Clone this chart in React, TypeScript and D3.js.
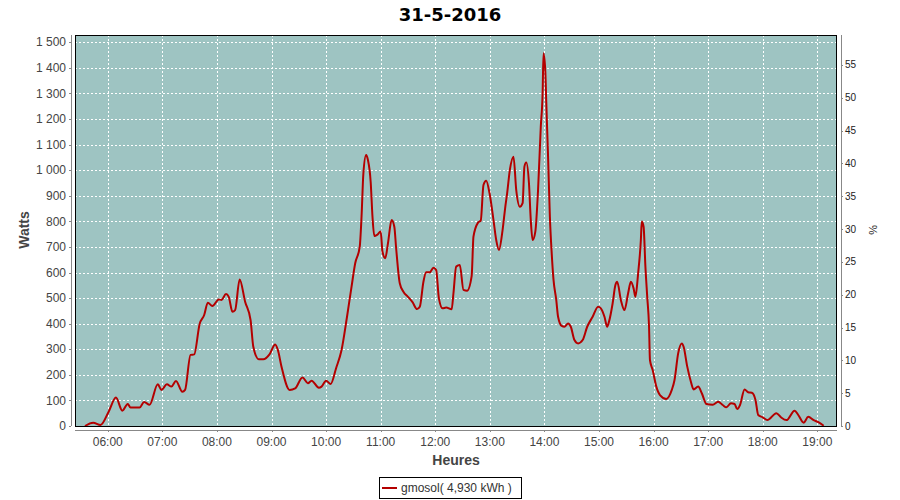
import React from 'react';
import * as d3 from 'd3';

// Puissance produite (W) relevée à chaque instant
const times = [
  '05:35', '05:44', '05:52', '06:01', '06:09', '06:16', '06:22', '06:25', '06:35', '06:40',
  '06:46', '06:55', '06:59', '07:05', '07:10', '07:15', '07:22', '07:25', '07:31', '07:35',
  '07:41', '07:46', '07:50', '07:55', '08:02', '08:05', '08:10', '08:13', '08:17', '08:20',
  '08:25', '08:31', '08:37', '08:40', '08:46', '08:51', '08:58', '09:04', '09:07', '09:11',
  '09:20', '09:26', '09:34', '09:40', '09:44', '09:52', '09:55', '10:00', '10:05', '10:11',
  '10:17', '10:23', '10:28', '10:32', '10:37', '10:39', '10:41', '10:44', '10:46', '10:49',
  '10:51', '10:53', '10:56', '11:00', '11:02', '11:05', '11:08', '11:12', '11:15', '11:17',
  '11:21', '11:25', '11:30', '11:35', '11:40', '11:43', '11:47', '11:50', '11:54', '11:58',
  '12:01', '12:04', '12:08', '12:12', '12:18', '12:20', '12:23', '12:27', '12:31', '12:35',
  '12:40', '12:42', '12:47', '12:50', '12:53', '12:56', '13:00', '13:04', '13:07', '13:10',
  '13:14', '13:17', '13:19', '13:22', '13:26', '13:29', '13:33', '13:36', '13:38', '13:40',
  '13:43', '13:45', '13:47', '13:50', '13:53', '13:56', '13:58', '13:59', '14:01', '14:02',
  '14:04', '14:06', '14:08', '14:10', '14:13', '14:15', '14:19', '14:22', '14:26', '14:29',
  '14:33', '14:37', '14:42', '14:47', '14:53', '14:59', '15:02', '15:06', '15:09', '15:11',
  '15:15', '15:18', '15:20', '15:24', '15:28', '15:32', '15:35', '15:38', '15:40', '15:43',
  '15:46', '15:47', '15:49', '15:51', '15:53', '15:55', '15:56', '15:59', '16:03', '16:07',
  '16:14', '16:20', '16:23', '16:27', '16:31', '16:33', '16:37', '16:41', '16:44', '16:49',
  '16:53', '16:58', '17:05', '17:11', '17:16', '17:20', '17:25', '17:29', '17:32', '17:35',
  '17:40', '17:44', '17:48', '17:52', '17:55', '18:00', '18:05', '18:15', '18:20', '18:26',
  '18:35', '18:39', '18:45', '18:50', '18:56', '19:02', '19:07',
];

const watts = [
  0, 13, 4, 56, 111, 60, 86, 72, 72, 94,
  83, 163, 141, 163, 154, 176, 134, 141, 278, 280,
  399, 434, 482, 469, 495, 493, 516, 505, 447, 453,
  573, 486, 414, 310, 261, 261, 281, 319, 297, 232,
  141, 147, 190, 167, 177, 150, 154, 177, 164, 226,
  297, 427, 545, 636, 701, 821, 988, 1059, 1040, 955,
  818, 743, 747, 760, 681, 656, 714, 805, 779, 695,
  558, 525, 505, 484, 457, 466, 564, 601, 601, 619,
  610, 499, 460, 463, 456, 519, 623, 629, 532, 529,
  586, 740, 795, 803, 942, 959, 903, 805, 727, 688,
  766, 857, 909, 1001, 1053, 923, 857, 871, 1014, 1030,
  949, 805, 727, 760, 923, 1170, 1300, 1457, 1385, 1268,
  1053, 818, 675, 571, 493, 427, 391, 388, 401, 388,
  336, 323, 336, 388, 427, 466, 460, 427, 388, 408,
  480, 551, 564, 493, 453, 519, 564, 538, 505, 597,
  727, 799, 779, 623, 505, 388, 258, 219, 154, 121,
  106, 141, 180, 284, 323, 310, 232, 173, 143, 154,
  128, 86, 83, 95, 82, 73, 89, 86, 66, 82,
  143, 132, 130, 102, 43, 34, 23, 50, 34, 23,
  60, 43, 13, 36, 23, 13, 1,
];

const hourTicks = ['06:00', '07:00', '08:00', '09:00', '10:00', '11:00', '12:00', '13:00', '14:00', '15:00', '16:00', '17:00', '18:00', '19:00'];
const wattTicks = [0, 100, 200, 300, 400, 500, 600, 700, 800, 900, 1000, 1100, 1200, 1300, 1400, 1500];
const percentTicks = [0, 5, 10, 15, 20, 25, 30, 35, 40, 45, 50, 55];

const title = '31-5-2016';
const seriesLabel = 'gmosol( 4,930 kWh )';

const toMin = (t: string) => {
  const [h, m] = t.split(':').map(Number);
  return h * 60 + m;
};

// "1 500" : séparateur de milliers par espace
const fmtW = (v: number) => d3.format(',')(v).replace(/,/g, ' ');

const W = 900;
const H = 500;
const plot = { left: 75, right: 837, top: 35, bottom: 426 };
const font = '"Liberation Sans", Arial, sans-serif';
const labelColor = '#444';

const App: React.FC = () => {
  const x = d3.scaleLinear().domain([324, 1161.6]).range([plot.left, plot.right]);
  const y = d3.scaleLinear().domain([0, 1528.5]).range([plot.bottom, plot.top]);
  const yPct = d3.scaleLinear().domain([0, 59.57]).range([plot.bottom, plot.top]);

  const data = times.map((t, i) => ({ m: toMin(t), w: watts[i] }));
  const line = d3.line<{ m: number; w: number }>()
    .x(d => x(d.m))
    .y(d => y(d.w))
    .curve(d3.curveMonotoneX);

  const axisY = plot.bottom + 4;
  const leftAxisX = plot.left - 4;
  const rightAxisX = plot.right + 4;

  return (
    <svg width={W} height={H} style={{ display: 'block', position: 'absolute', left: 0, top: 0 }}>
      <rect x={0} y={0} width={W} height={H} fill="#fff" />
      <text x={W / 2} y={21} textAnchor="middle" fontFamily='"DejaVu Sans", sans-serif' fontWeight="bold" fontSize={18} fill="#000">
        {title}
      </text>

      {/* zone du tracé */}
      <rect x={plot.left} y={plot.top} width={plot.right - plot.left} height={plot.bottom - plot.top} fill="#9ec4c2" />
      <clipPath id="clip">
        <rect x={plot.left} y={plot.top} width={plot.right - plot.left} height={plot.bottom - plot.top} />
      </clipPath>

      {/* grille */}
      <g stroke="#fff" strokeWidth={1} strokeDasharray="2,2" shapeRendering="crispEdges">
        {wattTicks.filter(v => v > 0).map(v => (
          <line key={'gy' + v} x1={plot.left} x2={plot.right} y1={Math.round(y(v)) + 0.5} y2={Math.round(y(v)) + 0.5} />
        ))}
        {hourTicks.map(t => (
          <line key={'gx' + t} x1={Math.round(x(toMin(t))) + 0.5} x2={Math.round(x(toMin(t))) + 0.5} y1={plot.top} y2={plot.bottom} />
        ))}
      </g>

      <path d={line(data) ?? ''} fill="none" stroke="#b40000" strokeWidth={2} strokeLinejoin="round" clipPath="url(#clip)" />

      <rect x={plot.left + 0.5} y={plot.top + 0.5} width={plot.right - plot.left - 1} height={plot.bottom - plot.top} fill="none" stroke="#000" strokeWidth={1} />

      {/* axe gauche */}
      <g fontFamily={font} fontSize={12} fill={labelColor}>
        <line x1={leftAxisX + 0.5} x2={leftAxisX + 0.5} y1={plot.top} y2={plot.bottom} stroke="#888" />
        {wattTicks.map(v => (
          <g key={'ly' + v}>
            <line x1={leftAxisX - 2} x2={leftAxisX} y1={Math.round(y(v)) + 0.5} y2={Math.round(y(v)) + 0.5} stroke="#888" />
            <text x={leftAxisX - 5} y={y(v)} dy="0.35em" textAnchor="end">{fmtW(v)}</text>
          </g>
        ))}
      </g>
      <text transform={`translate(29,230) rotate(-90)`} textAnchor="middle" fontFamily={font} fontWeight="bold" fontSize={14} fill={labelColor}>
        Watts
      </text>

      {/* axe droit */}
      <g fontFamily={font} fontSize={10} fill="#222">
        <line x1={rightAxisX + 0.5} x2={rightAxisX + 0.5} y1={plot.top} y2={plot.bottom} stroke="#888" />
        {percentTicks.map(v => (
          <g key={'ry' + v}>
            <line x1={rightAxisX} x2={rightAxisX + 2} y1={Math.round(yPct(v)) + 0.5} y2={Math.round(yPct(v)) + 0.5} stroke="#888" />
            <text x={rightAxisX + 4} y={yPct(v)} dy="0.35em" textAnchor="start">{v}</text>
          </g>
        ))}
      </g>
      <text transform={`translate(869,230) rotate(90)`} textAnchor="middle" fontFamily={font} fontSize={11} fill="#222">
        %
      </text>

      {/* axe du temps */}
      <g fontFamily={font} fontSize={12} fill={labelColor}>
        <line x1={plot.left} x2={plot.right} y1={axisY + 0.5} y2={axisY + 0.5} stroke="#888" />
        {hourTicks.map(t => (
          <g key={'x' + t}>
            <line x1={Math.round(x(toMin(t))) + 0.5} x2={Math.round(x(toMin(t))) + 0.5} y1={axisY} y2={axisY + 2} stroke="#888" />
            <text x={x(toMin(t))} y={446} textAnchor="middle">{t}</text>
          </g>
        ))}
      </g>
      <text x={456} y={465} textAnchor="middle" fontFamily={font} fontWeight="bold" fontSize={14} fill={labelColor}>
        Heures
      </text>

      {/* légende */}
      <rect x={379.5} y={477.5} width={142} height={21} fill="#fff" stroke="#000" />
      <line x1={382} x2={397} y1={488} y2={488} stroke="#b40000" strokeWidth={2} />
      <text x={401} y={492} fontFamily={font} fontSize={12} fill="#333">{seriesLabel}</text>
    </svg>
  );
};

export default App;
